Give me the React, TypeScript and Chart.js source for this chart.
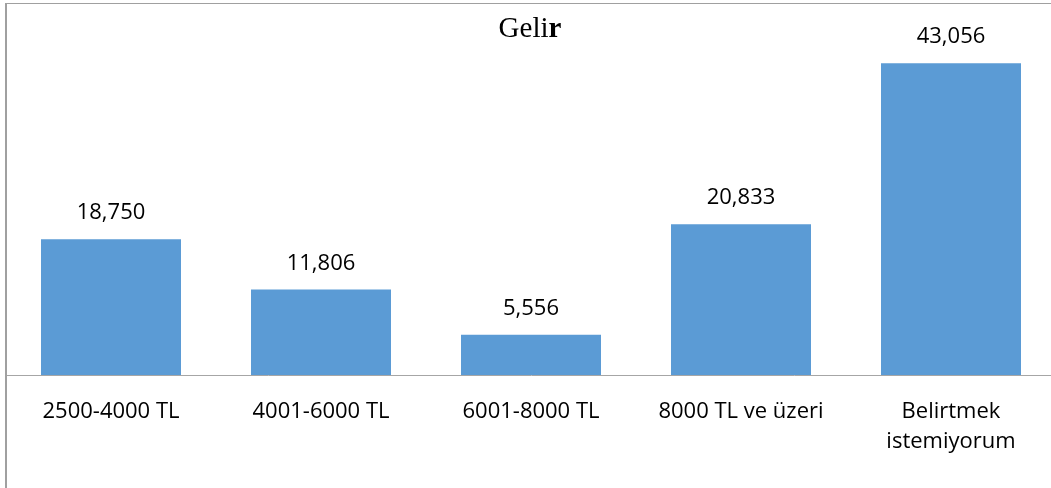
import React, { useEffect, useRef } from "react";
import { Chart, registerables } from "chart.js";

Chart.register(...registerables);

const categories: (string | string[])[] = [
  "2500-4000 TL",
  "4001-6000 TL",
  "6001-8000 TL",
  "8000 TL ve üzeri",
  ["Belirtmek", "istemiyorum"],
];
const values = [18.75, 11.806, 5.556, 20.833, 43.056];
const valueLabels = ["18,750", "11,806", "5,556", "20,833", "43,056"];
const titleNormal = "Geli";
const titleBold = "r";

const BAR_COLOR = "#5B9BD5";
const FONT = "'Open Sans', 'Liberation Sans', sans-serif";

export default function App() {
  const ref = useRef<HTMLCanvasElement | null>(null);

  useEffect(() => {
    if (!ref.current) return;
    const labelPlugin = {
      id: "valueLabels",
      afterDatasetsDraw(chart: any) {
        const ctx = chart.ctx;
        const meta = chart.getDatasetMeta(0);
        ctx.save();
        ctx.font = `22px ${FONT}`;
        ctx.fillStyle = "#000";
        ctx.textAlign = "center";
        ctx.textBaseline = "alphabetic";
        meta.data.forEach((el: any, i: number) => {
          ctx.fillText(valueLabels[i], el.x, el.y - 20);
        });
        ctx.restore();
      },
      afterDraw(chart: any) {
        const ctx = chart.ctx;
        ctx.save();
        const fN = "29px 'Liberation Serif', 'Times New Roman', serif";
        const fB = "bold 29px 'Liberation Serif', 'Times New Roman', serif";
        ctx.font = fN;
        const w1 = ctx.measureText(titleNormal).width;
        ctx.font = fB;
        const w2 = ctx.measureText(titleBold).width;
        const cx = 530;
        const x0 = cx - (w1 + w2) / 2;
        ctx.fillStyle = "#000";
        ctx.textBaseline = "alphabetic";
        ctx.textAlign = "left";
        ctx.font = fN;
        ctx.fillText(titleNormal, x0, 37);
        ctx.font = fB;
        ctx.fillText(titleBold, x0 + w1, 37);
        ctx.restore();
      },
    };

    const chart = new Chart(ref.current, {
      type: "bar",
      data: {
        labels: categories as any,
        datasets: [
          {
            data: values,
            backgroundColor: BAR_COLOR,
            borderWidth: 0,
            barPercentage: 0.6667,
            categoryPercentage: 1,
          },
        ],
      },
      options: {
        animation: false,
        responsive: true,
        maintainAspectRatio: false,
        layout: { padding: { left: 6, right: 0, top: 13, bottom: 0 } },
        plugins: {
          legend: { display: false },
          tooltip: { enabled: false },
          title: { display: false },
        },
        scales: {
          x: {
            grid: { display: false, drawTicks: false },
            border: { display: true, color: "#A6A6A6", width: 1 },
            ticks: {
              color: "#000",
              font: { family: FONT, size: 22, lineHeight: 1.36 },
              padding: 22,
              maxRotation: 0,
              autoSkip: false,
            },
            afterFit: (scale: any) => {
              scale.height = 113;
            },
          },
          y: {
            display: false,
            min: 0,
            max: 50,
          },
        },
      },
      plugins: [labelPlugin],
    });
    return () => chart.destroy();
  }, []);

  return (
    <div
      style={{
        position: "fixed",
        left: 0,
        top: 0,
        width: 1051,
        height: 488,
        overflow: "hidden",
        background: "#fff",
      }}
    >
      <div style={{ position: "absolute", left: 0, top: 0, width: 1056, height: 488 }}>
        <canvas ref={ref} />
      </div>
      <div
        style={{
          position: "absolute",
          left: 5,
          top: 3,
          width: 1100,
          height: 600,
          borderLeft: "2px solid #A0A0A0",
          borderTop: "1px solid #A0A0A0",
          pointerEvents: "none",
        }}
      />
    </div>
  );
}
